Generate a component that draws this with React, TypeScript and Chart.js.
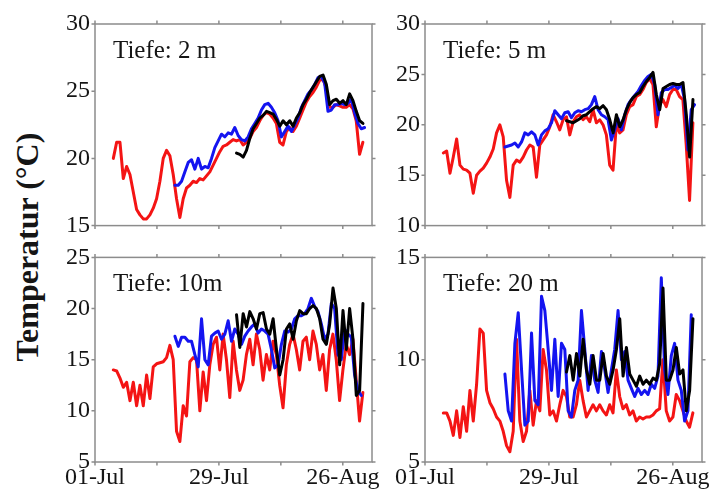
import React, { useEffect, useRef } from 'react';
import { Chart, registerables } from 'chart.js';

Chart.register(...registerables);

// ---- axis / tick data ----
const X_TICK_DAYS = [0, 14, 28, 42, 56];
const X_TICK_LABELS = ['01-Jul', '', '29-Jul', '', '26-Aug'];
const X_MAX_DAY = 62.6;
const SAMPLE_STEP = 0.752; // days between samples
const RED_START = 4.14;
const BLUE_START = 18.06;
const BLACK_START = 31.98;

const Y_TICKS_2M = [15, 20, 25, 30];
const Y_TICKS_5M = [10, 15, 20, 25, 30];
const Y_TICKS_10M = [5, 10, 15, 20, 25];
const Y_TICKS_20M = [5, 10, 15];

const PANEL_LABELS = ['Tiefe: 2 m', 'Tiefe: 5 m', 'Tiefe: 10m', 'Tiefe: 20 m'];
const Y_LABEL = 'Temperatur (°C)';

// ---- series values (°C) ----
const RED_2M = [20.0, 21.2, 21.2, 18.5, 19.4, 18.8, 17.5, 16.2, 15.8, 15.5, 15.5, 15.8, 16.3, 17.0, 18.3, 20.0, 20.6, 20.2, 18.8, 17.0,
  15.6, 17.0, 17.8, 18.0, 18.3, 18.2, 18.5, 18.4, 18.7, 19.0, 19.5, 20.0, 20.5, 20.9, 21.0, 21.2, 21.4, 21.3, 21.4, 21.0,
  21.2, 21.5, 22.0, 22.3, 22.8, 23.2, 23.4, 23.3, 23.0, 22.6, 21.2, 21.0, 22.0, 22.3, 22.0, 22.4, 23.0, 23.6, 24.2, 24.6,
  24.9, 25.3, 25.8, 25.9, 25.2, 23.8, 23.8, 24.0, 23.9, 23.8, 23.8, 24.0, 23.7, 22.8, 20.3, 21.2];
const BLUE_2M = [18.0, 18.0, 18.3, 19.0, 19.7, 19.9, 19.2, 20.0, 19.2, 19.4, 19.3, 20.0, 20.8, 21.3, 21.8, 21.6, 21.9, 21.8, 22.3, 21.7,
  21.4, 21.3, 21.6, 22.2, 22.6, 23.0, 23.6, 24.0, 24.1, 23.8, 23.4, 22.8, 21.6, 22.0, 22.4, 22.0, 22.5, 23.0, 23.8, 24.3,
  24.8, 25.1, 25.5, 26.0, 26.1, 25.6, 23.5, 23.6, 24.0, 24.0, 24.1, 24.0, 24.1, 24.4, 23.4, 22.6, 22.2, 22.3];
const BLACK_2M = [20.4, 20.3, 20.1, 20.6, 21.5, 22.2, 22.6, 23.0, 23.2, 23.5, 23.4, 23.3, 22.9, 22.4, 22.8, 22.5, 22.8, 22.4, 23.0, 23.4,
  24.0, 24.4, 24.9, 25.3, 25.7, 26.1, 26.2, 25.5, 24.0, 24.3, 24.4, 24.1, 24.3, 24.0, 24.8, 24.3, 23.5, 22.8, 22.6];

const RED_5M = [17.2, 17.4, 15.2, 16.8, 18.6, 16.0, 15.6, 15.5, 15.2, 13.2, 15.0, 15.4, 15.7, 16.2, 16.8, 17.6, 19.2, 20.0, 18.8, 14.5,
  12.8, 16.0, 16.5, 16.3, 16.8, 17.5, 18.0, 17.8, 14.8, 18.0, 18.5, 19.0, 19.8, 21.0, 20.3, 19.5, 20.5, 20.8, 19.0, 20.3,
  20.8, 21.0, 20.5, 20.8, 20.3, 21.5, 20.2, 20.5, 20.0, 19.0, 16.0, 15.5, 20.0, 19.2, 19.5, 21.0, 21.8, 22.0, 22.8, 23.0,
  23.5, 24.2, 24.6, 24.0, 19.8, 22.0, 22.5, 21.8, 23.0, 23.5, 23.5, 22.8, 22.5, 18.0, 12.5, 20.2];
const BLUE_5M = [17.8, 17.9, 18.0, 18.2, 17.8, 18.3, 19.2, 19.0, 19.3, 19.0, 18.0, 19.0, 19.4, 19.6, 20.2, 21.4, 21.0, 20.6, 21.2, 21.3,
  20.7, 21.2, 21.4, 21.3, 21.5, 21.6, 22.0, 22.8, 21.5, 21.0, 20.8, 20.5, 18.5, 19.5, 20.6, 19.5, 21.0, 22.0, 22.5, 22.9,
  23.3, 23.9, 24.4, 24.8, 25.0, 24.0, 21.0, 23.2, 23.5, 23.5, 23.7, 23.9, 23.6, 24.0, 22.5, 17.5, 21.5, 22.0];
const BLACK_5M = [20.4, 20.3, 20.2, 20.4, 20.6, 20.9, 21.0, 21.3, 21.6, 21.8, 21.6, 21.9, 21.5, 20.5, 19.2, 21.0, 19.8, 20.5, 21.5, 22.2,
  22.7, 23.0, 23.2, 23.8, 24.3, 24.7, 25.2, 23.0, 21.5, 23.6, 23.8, 24.0, 24.1, 24.0, 24.0, 24.2, 21.0, 16.8, 22.5];

const RED_10M = [14.0, 13.9, 13.2, 12.3, 12.8, 11.0, 12.8, 10.5, 12.5, 10.5, 13.5, 11.2, 14.3, 14.6, 14.7, 14.8, 15.2, 16.4, 15.0, 8.0,
  7.0, 10.5, 9.5, 14.8, 15.2, 15.0, 10.0, 13.8, 11.0, 14.5, 16.5, 17.2, 14.0, 17.5, 15.0, 11.3, 16.8, 14.0, 12.0, 13.0,
  15.5, 17.0, 14.5, 17.5, 16.0, 13.0, 15.5, 14.0, 16.8, 15.5, 12.5, 10.3, 14.5, 16.5, 17.5, 16.0, 14.0, 16.8, 17.2, 15.0,
  17.8, 16.5, 14.0, 15.5, 12.0, 16.0, 17.5, 15.0, 11.0, 14.0, 16.5, 15.5, 17.0, 13.0, 9.0, 11.8];
const BLUE_10M = [17.3, 16.3, 17.2, 17.2, 16.8, 16.8, 15.5, 14.3, 19.0, 15.0, 14.5, 17.3, 17.6, 17.8, 17.0, 17.5, 18.8, 16.8, 18.0, 17.5,
  16.5, 17.3, 17.8, 18.2, 18.5, 17.6, 18.0, 17.8, 17.5, 16.0, 14.2, 14.5, 16.5, 17.8, 17.7, 18.0, 19.0, 19.3, 19.3, 19.5,
  20.0, 21.0, 20.2, 19.7, 18.5, 17.0, 17.5, 20.5, 20.0, 15.5, 15.0, 18.0, 17.5, 17.2, 13.5, 12.0, 11.5];
const BLACK_10M = [19.4, 16.2, 19.5, 18.2, 19.7, 19.0, 18.0, 19.5, 19.6, 18.0, 17.5, 19.0, 16.0, 13.5, 15.0, 18.0, 18.5, 17.0, 18.8, 19.8,
  19.5, 19.5, 20.0, 20.3, 20.0, 19.0, 17.0, 16.5, 18.5, 22.0, 20.0, 14.5, 19.8, 16.0, 20.0, 17.0, 11.5, 12.0, 20.5];

const RED_20M = [7.4, 7.4, 7.0, 6.3, 7.5, 6.2, 7.7, 6.5, 8.5, 7.0, 8.8, 11.5, 11.3, 8.5, 7.9, 7.6, 7.2, 7.0, 6.5, 5.8,
  5.5, 6.5, 11.0, 7.0, 6.0, 6.5, 8.5, 6.8, 8.0, 7.5, 10.5, 9.5, 7.3, 7.5, 7.0, 7.8, 8.5, 8.2, 7.2, 7.2,
  7.8, 9.0, 8.0, 7.2, 7.5, 7.8, 7.5, 7.8, 7.5, 7.3, 7.8, 7.4, 9.5, 8.2, 7.6, 7.8, 7.3, 7.5, 7.0, 7.2,
  7.1, 7.2, 7.2, 7.3, 7.5, 7.6, 10.0, 7.5, 7.0, 7.2, 8.3, 8.0, 7.5, 7.0, 6.7, 7.4];
const BLUE_20M = [9.3, 7.5, 7.0, 10.8, 12.3, 9.5, 6.8, 7.0, 11.3, 8.0, 7.8, 13.1, 12.4, 10.5, 8.5, 11.0, 8.2, 10.8, 10.5, 7.5,
  7.2, 8.5, 9.0, 12.4, 10.5, 8.5, 10.2, 9.0, 8.4, 10.4, 9.5, 8.4, 9.5, 10.5, 12.4, 10.0, 10.4, 9.0, 8.6, 8.2,
  8.6, 8.3, 8.5, 8.3, 8.8, 8.6, 9.2, 14.0, 9.5, 8.3, 10.2, 10.8, 9.0, 8.5, 7.0, 7.5, 12.2];
const BLACK_20M = [9.4, 10.2, 9.0, 10.3, 9.2, 11.0, 9.5, 8.8, 10.2, 9.0, 9.0, 10.3, 9.2, 8.8, 9.5, 10.5, 12.0, 9.2, 10.6, 9.3,
  9.0, 8.7, 9.2, 8.8, 9.0, 8.8, 9.1, 9.0, 9.8, 13.5, 9.0, 9.0, 9.5, 10.6, 9.3, 9.5, 7.5, 8.5, 12.0];

const RED = '#f41414';
const BLUE = '#1414f0';
const BLACK = '#000000';
const FONT = '"Liberation Serif", "Times New Roman", serif';

const toPoints = (start: number, values: number[]) =>
  values.map((y, i) => ({ x: start + i * SAMPLE_STEP, y }));

type PanelDef = {
  label: string;
  red: number[];
  blue: number[];
  black: number[];
  yTicks: number[];
  showX: boolean;
  left: number;
  top: number;
  width: number;
  height: number;
  padTop: number;
  xHeight: number;
};

const framePlugin = {
  id: 'panelFrame',
  afterDraw(chart: any, _args: any, opts: any) {
    const { ctx, chartArea: a, scales } = chart;
    ctx.save();
    ctx.strokeStyle = '#8c8c8c';
    ctx.lineWidth = 1.5;
    ctx.strokeRect(a.left, a.top, a.right - a.left, a.bottom - a.top);
    const t = 3.5;
    ctx.beginPath();
    scales.x.ticks.forEach((tk: any) => {
      const px = scales.x.getPixelForValue(tk.value);
      ctx.moveTo(px, a.bottom);
      ctx.lineTo(px, a.bottom + t);
      ctx.moveTo(px, a.top);
      ctx.lineTo(px, a.top - t);
    });
    scales.y.ticks.forEach((tk: any) => {
      const py = scales.y.getPixelForValue(tk.value);
      ctx.moveTo(a.left, py);
      ctx.lineTo(a.left - t, py);
      ctx.moveTo(a.right, py);
      ctx.lineTo(a.right + t, py);
    });
    ctx.stroke();
    ctx.fillStyle = '#151515';
    ctx.font = `25px ${FONT}`;
    ctx.textAlign = 'left';
    ctx.textBaseline = 'alphabetic';
    ctx.fillText(opts.label, a.left + 18, a.top + 34);
    ctx.restore();
  },
};

function Panel({ def }: { def: PanelDef }) {
  const ref = useRef<HTMLCanvasElement>(null);
  useEffect(() => {
    if (!ref.current) return;
    const yMin = def.yTicks[0];
    const yMax = def.yTicks[def.yTicks.length - 1];
    const chart = new Chart(ref.current, {
      type: 'line',
      data: {
        datasets: [
          { data: toPoints(BLACK_START, def.black), borderColor: BLACK },
          { data: toPoints(BLUE_START, def.blue), borderColor: BLUE },
          { data: toPoints(RED_START, def.red), borderColor: RED },
        ],
      },
      options: {
        responsive: false,
        animation: false,
        parsing: false,
        layout: { padding: { top: def.padTop, right: 18, left: 0, bottom: 0 } },
        elements: {
          point: { radius: 0 },
          line: { borderWidth: 3, tension: 0, borderJoinStyle: 'round', borderCapStyle: 'round' },
        },
        plugins: {
          legend: { display: false },
          tooltip: { enabled: false },
          panelFrame: { label: def.label },
        } as any,
        scales: {
          x: {
            type: 'linear',
            min: 0,
            max: X_MAX_DAY,
            grid: { display: false, drawTicks: false },
            border: { display: false },
            afterBuildTicks: (s: any) => {
              s.ticks = X_TICK_DAYS.map((v) => ({ value: v }));
            },
            afterFit: (s: any) => {
              s.height = def.xHeight;
            },
            ticks: {
              display: def.showX,
              autoSkip: false,
              maxRotation: 0,
              padding: 1,
              color: '#151515',
              font: { family: FONT, size: 24 },
              callback: (v: any) => {
                const i = X_TICK_DAYS.indexOf(Number(v));
                return i >= 0 ? X_TICK_LABELS[i] : '';
              },
            },
          },
          y: {
            type: 'linear',
            min: yMin,
            max: yMax,
            grid: { display: false, drawTicks: false },
            border: { display: false },
            afterBuildTicks: (s: any) => {
              s.ticks = def.yTicks.map((v) => ({ value: v }));
            },
            afterFit: (s: any) => {
              s.width = 45;
            },
            ticks: {
              padding: 5,
              color: '#151515',
              font: { family: FONT, size: 24 },
            },
          },
        },
      },
      plugins: [framePlugin],
    } as any);
    return () => chart.destroy();
  }, [def]);
  return (
    <canvas
      ref={ref}
      width={def.width}
      height={def.height}
      style={{ position: 'absolute', left: def.left, top: def.top, width: def.width, height: def.height }}
    />
  );
}

const PANELS: PanelDef[] = [
  { label: PANEL_LABELS[0], red: RED_2M, blue: BLUE_2M, black: BLACK_2M, yTicks: Y_TICKS_2M, showX: false,
    left: 50, top: 0, width: 340, height: 245, padTop: 24, xHeight: 14 },
  { label: PANEL_LABELS[1], red: RED_5M, blue: BLUE_5M, black: BLACK_5M, yTicks: Y_TICKS_5M, showX: false,
    left: 380, top: 0, width: 340, height: 245, padTop: 24, xHeight: 14 },
  { label: PANEL_LABELS[2], red: RED_10M, blue: BLUE_10M, black: BLACK_10M, yTicks: Y_TICKS_10M, showX: true,
    left: 50, top: 238, width: 340, height: 255, padTop: 17, xHeight: 31 },
  { label: PANEL_LABELS[3], red: RED_20M, blue: BLUE_20M, black: BLACK_20M, yTicks: Y_TICKS_20M, showX: true,
    left: 380, top: 238, width: 340, height: 255, padTop: 17, xHeight: 31 },
];

export default function App() {
  return (
    <div style={{ position: 'absolute', left: 0, top: 0, width: 720, height: 493, background: '#fff', overflow: 'hidden' }}>
      {PANELS.map((p, i) => (
        <Panel key={i} def={p} />
      ))}
      <div
        style={{
          position: 'absolute',
          left: 27,
          top: 247,
          transform: 'translate(-50%, -50%) rotate(-90deg)',
          font: `bold 32px ${FONT}`,
          whiteSpace: 'nowrap',
          color: '#151515',
          lineHeight: 1,
        }}
      >
        {Y_LABEL}
      </div>
    </div>
  );
}
